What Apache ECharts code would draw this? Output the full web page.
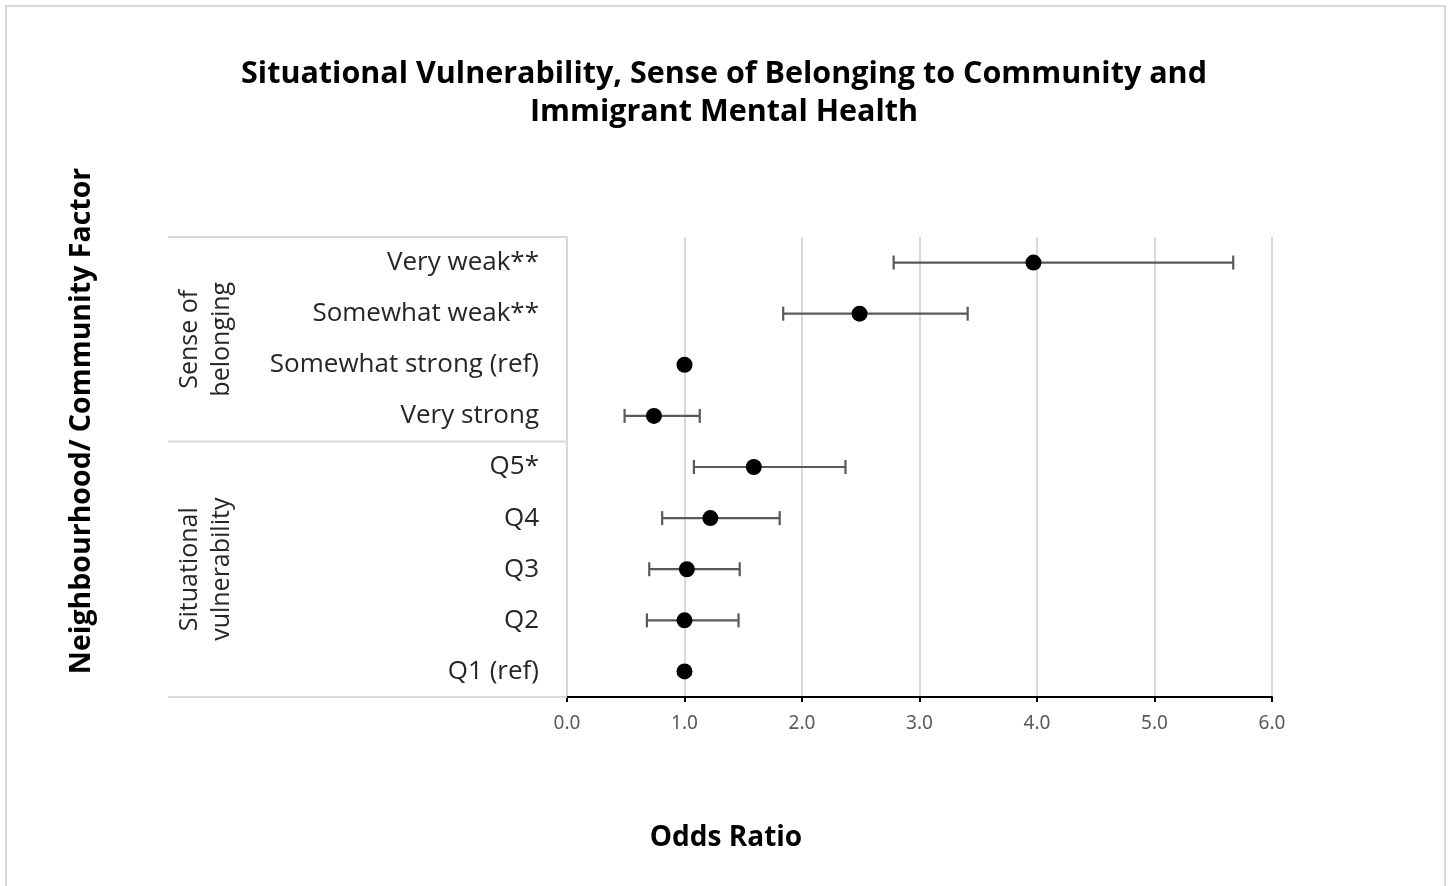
<!DOCTYPE html>
<html>
<head>
<meta charset="utf-8">
<script src="https://cdn.jsdelivr.net/npm/echarts@6/dist/echarts.min.js"></script>
<style>
html,body{margin:0;padding:0;background:#fff;}
#chart{width:1449px;height:886px;}
</style>
</head>
<body>
<div id="chart"></div>
<script>
// ---- data ----
const categories = ['Very weak**', 'Somewhat weak**', 'Somewhat strong (ref)', 'Very strong', 'Q5*', 'Q4', 'Q3', 'Q2', 'Q1 (ref)'];
const oddsRatio = [3.97, 2.49, 1.00, 0.74, 1.59, 1.22, 1.02, 1.00, 1.00];
const ciLow  = [2.78, 1.84, null, 0.49, 1.08, 0.81, 0.70, 0.68, null];
const ciHigh = [5.67, 3.41, null, 1.13, 2.37, 1.81, 1.47, 1.46, null];
const groupNames = ['Sense of\nbelonging', 'Situational\nvulnerability'];
const groupSizes = [4, 5];
const xTicks = [0, 1, 2, 3, 4, 5, 6];

const chart = echarts.init(document.getElementById('chart'));

const errData = categories.map((c, i) => [i, ciLow[i], ciHigh[i]]).filter(d => d[1] != null);
const ptData = categories.map((c, i) => [oddsRatio[i], i]);

const option = {
  backgroundColor: '#fff',
  animation: false,
  title: {
    text: 'Situational Vulnerability, Sense of Belonging to Community and\nImmigrant Mental Health',
    left: 719, textAlign: 'center', top: 50,
    textStyle: { fontFamily: 'Open Sans', fontWeight: 'bold', fontSize: 30.5, lineHeight: 38, color: '#000' }
  },
  grid: { left: 567, right: 177, top: 237, bottom: 189 },
  xAxis: {
    type: 'value', min: xTicks[0], max: xTicks[xTicks.length - 1], interval: 1,
    axisLine: { show: true, lineStyle: { color: '#000', width: 2 } },
    axisTick: { show: true, length: 5, lineStyle: { color: '#000', width: 2 } },
    axisLabel: { formatter: v => v.toFixed(1), color: '#595959', fontSize: 19, fontFamily: 'Noto Sans', margin: 17 },
    splitLine: { show: true, lineStyle: { color: '#d9d9d9', width: 2 } }
  },
  yAxis: {
    type: 'category', data: categories, inverse: true,
    axisLine: { show: true, lineStyle: { color: '#d9d9d9', width: 2 } },
    axisTick: { show: false },
    axisLabel: { color: '#262626', fontSize: 26, fontFamily: 'Open Sans', margin: 28 },
    splitLine: { show: false }
  },
  series: [
    {
      type: 'custom',
      data: errData,
      z: 2,
      renderItem: function (params, api) {
        const idx = api.value(0);
        const p1 = api.coord([api.value(1), idx]);
        const p2 = api.coord([api.value(2), idx]);
        const h = 7;
        const style = { stroke: '#595959', lineWidth: 2.2 };
        return {
          type: 'group',
          children: [
            { type: 'line', shape: { x1: p1[0], y1: p1[1], x2: p2[0], y2: p2[1] }, style: style },
            { type: 'line', shape: { x1: p1[0], y1: p1[1] - h, x2: p1[0], y2: p1[1] + h }, style: style },
            { type: 'line', shape: { x1: p2[0], y1: p2[1] - h, x2: p2[0], y2: p2[1] + h }, style: style }
          ]
        };
      },
      encode: { x: [1, 2], y: 0 }
    },
    {
      type: 'scatter',
      data: ptData,
      symbol: 'circle', symbolSize: 16,
      itemStyle: { color: '#000', opacity: 1 },
      z: 3
    }
  ]
};
chart.setOption(option);

// table lines and group labels placed from the category scale
function buildGraphics() {
  const c0 = chart.convertToPixel({ yAxisIndex: 0 }, 0);
  const c1 = chart.convertToPixel({ yAxisIndex: 0 }, 1);
  const band = c1 - c0;
  const axisX = chart.convertToPixel({ xAxisIndex: 0 }, 0);
  const leftX = 168;
  const elements = [];
  elements.push({
    type: 'rect', shape: { x: 6, y: 6, width: 1439, height: 900 },
    style: { fill: 'none', stroke: '#d9d9d9', lineWidth: 2 }, silent: true, z: 0
  });
  let start = 0;
  const bounds = [c0 - band / 2];
  groupSizes.forEach((n, gi) => {
    const top = c0 + (start - 0.5) * band;
    const bottom = c0 + (start + n - 0.5) * band;
    bounds.push(bottom);
    elements.push({
      type: 'text', x: 206, y: (top + bottom) / 2, rotation: Math.PI / 2,
      style: {
        text: groupNames[gi], fill: '#262626', fontSize: 25, fontFamily: 'Open Sans',
        align: 'center', verticalAlign: 'middle', lineHeight: 32
      }
    });
    start += n;
  });
  bounds.forEach(y => {
    elements.push({
      type: 'line', shape: { x1: leftX, y1: y, x2: axisX, y2: y },
      style: { stroke: '#d9d9d9', lineWidth: 2 }, z: 1
    });
  });
  elements.push({
    type: 'text', x: 82, y: 421, rotation: Math.PI / 2,
    style: {
      text: 'Neighbourhood/ Community Factor', fill: '#000', fontSize: 28.5,
      fontFamily: 'Open Sans', fontWeight: 'bold', align: 'center', verticalAlign: 'middle'
    }
  });
  elements.push({
    type: 'text', x: 726, y: 838,
    style: {
      text: 'Odds Ratio', fill: '#000', fontSize: 28,
      fontFamily: 'Open Sans', fontWeight: 'bold', align: 'center', verticalAlign: 'middle'
    }
  });
  chart.setOption({ graphic: elements });
}
buildGraphics();
</script>
</body>
</html>
